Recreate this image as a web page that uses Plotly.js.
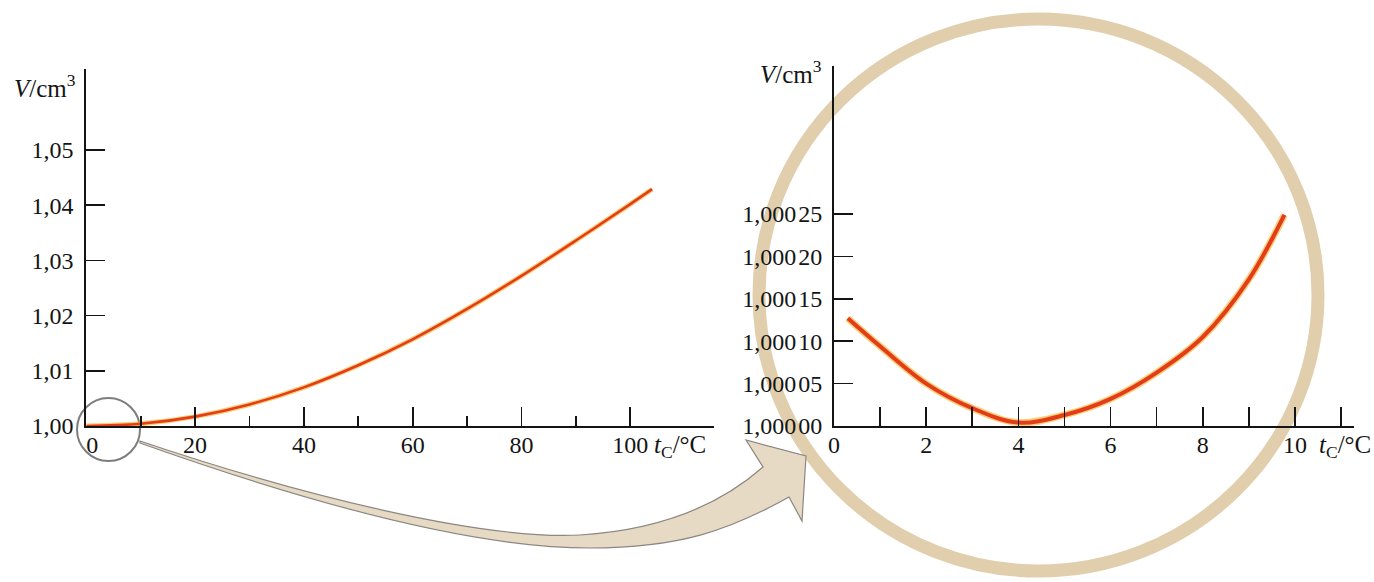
<!DOCTYPE html>
<html>
<head>
<meta charset="utf-8">
<script src="https://cdn.plot.ly/plotly-3.0.1.min.js"></script>
<style>html,body{margin:0;padding:0;background:#fff;}#chart{width:1374px;height:582px;}</style>
</head>
<body>
<div id="chart"></div>
<script>
// ---- data ----
const fullTemps = [0, 10, 20, 30, 40, 50, 60, 70, 80, 90, 100, 104];
const fullVolumes = [1.0000, 1.0004, 1.0017, 1.0039, 1.0070, 1.0110, 1.0157, 1.0212, 1.0272, 1.0336, 1.0402, 1.0429];

const zoomTemps = [0.3, 1, 2, 3, 4, 5, 6, 7, 8, 9, 9.77];
const zoomVolumes = [1.000127, 1.000094, 1.000050, 1.000021, 1.000004, 1.000013, 1.000032, 1.000063, 1.000105, 1.000173, 1.000249];

const leftYTicks = [1.00, 1.01, 1.02, 1.03, 1.04, 1.05];
const leftYLabels = ['1,00', '1,01', '1,02', '1,03', '1,04', '1,05'];
const leftXTicks = [0, 20, 40, 60, 80, 100];
const leftXLabels = ['\u20020', '20', '40', '60', '80', '100'];
const leftXMinor = [10, 30, 50, 70, 90];

const rightYTicks = [1.00000, 1.00005, 1.00010, 1.00015, 1.00020, 1.00025];
const rightYLabels = ['1,000\u200a00', '1,000\u200a05', '1,000\u200a10', '1,000\u200a15', '1,000\u200a20', '1,000\u200a25'];
const rightXTicks = [0, 1, 2, 3, 4, 5, 6, 7, 8, 9, 10, 11];
const rightXLabels = ['0', '', '2', '', '4', '', '6', '', '8', '', '10', ''];

// ---- geometry helpers (pixel -> paper) ----
const W = 1374, H = 582;
const px = x => x / W;
const py = y => 1 - y / H;
function pathFrom(cmds) {
  return cmds.map(c => c[0] + ' ' + c.slice(1).reduce((a, v, i) => {
    if (i % 2 === 0) a.push(px(v).toFixed(5)); else a.push(py(v).toFixed(5));
    return a;
  }, []).join(' ')).join(' ') + ' Z';
}

const red = '#e33c1b';
const glow = '#f6b93a';
const serif = 'Liberation Serif, Times New Roman, serif';
const ink = '#141414';

const traces = [
  {x: fullTemps, y: fullVolumes, xaxis: 'x', yaxis: 'y', mode: 'lines', line: {color: glow, width: 5, shape: 'spline'}, opacity: 0.7, hoverinfo: 'skip'},
  {x: fullTemps, y: fullVolumes, xaxis: 'x', yaxis: 'y', mode: 'lines', line: {color: red, width: 2.6, shape: 'spline'}},
  {x: zoomTemps, y: zoomVolumes, xaxis: 'x2', yaxis: 'y2', mode: 'lines', line: {color: glow, width: 7, shape: 'spline'}, opacity: 0.7, hoverinfo: 'skip'},
  {x: zoomTemps, y: zoomVolumes, xaxis: 'x2', yaxis: 'y2', mode: 'lines', line: {color: red, width: 4, shape: 'spline'}}
];

const axisCommon = {
  showline: true, linecolor: ink, linewidth: 2,
  ticks: 'inside', ticklen: 19, tickwidth: 1.6, tickcolor: ink,
  showgrid: false, zeroline: false, fixedrange: true,
  tickfont: {family: serif, size: 24, color: ink},
  tickmode: 'array'
};

const leftXStart = 86.3, leftXEnd = 714, leftPxPerUnit = 5.44;
const rightXStart = 834, rightXEnd = 1354, rightPxPerUnit = 46.1;
const baseY = 426;
const leftTop = 69, leftPxPer = 5520;         // px per 1.0 of V
const rightTop = 66, rightPxPer = 42.4 / 0.00005;

const layout = {
  width: W, height: H,
  margin: {l: 0, r: 0, t: 0, b: 0, pad: 0},
  paper_bgcolor: '#ffffff', plot_bgcolor: 'rgba(0,0,0,0)',
  showlegend: false,
  xaxis: Object.assign({}, axisCommon, {
    domain: [px(leftXStart), px(leftXEnd)], anchor: 'y',
    range: [0, (leftXEnd - leftXStart) / leftPxPerUnit],
    tickvals: leftXTicks, ticktext: leftXLabels, ticklabelstandoff: -4,
    minor: {tickmode: 'array', tickvals: leftXMinor, ticks: 'inside', ticklen: 10, tickwidth: 1.6, tickcolor: ink}
  }),
  yaxis: Object.assign({}, axisCommon, {
    domain: [py(baseY), py(leftTop)], anchor: 'x',
    range: [1.0, 1.0 + (baseY - leftTop) / leftPxPer],
    tickvals: leftYTicks, ticktext: leftYLabels, ticklabelstandoff: 6
  }),
  xaxis2: Object.assign({}, axisCommon, {
    domain: [px(rightXStart), px(rightXEnd)], anchor: 'y2',
    range: [0, (rightXEnd - rightXStart) / rightPxPerUnit],
    tickvals: rightXTicks, ticktext: rightXLabels, ticklabelstandoff: -4
  }),
  yaxis2: Object.assign({}, axisCommon, {
    domain: [py(baseY), py(rightTop)], anchor: 'x2',
    range: [1.0, 1.0 + (baseY - rightTop) / rightPxPer],
    tickvals: rightYTicks, ticktext: rightYLabels, ticklabelstandoff: 5
  }),
  annotations: [
    {xref: 'paper', yref: 'paper', x: px(78), y: py(86), xanchor: 'right', yanchor: 'middle', showarrow: false,
     text: '<i>V</i>/cm<sup>3</sup>', font: {family: serif, size: 25, color: ink}},
    {xref: 'paper', yref: 'paper', x: px(824), y: py(72), xanchor: 'right', yanchor: 'middle', showarrow: false,
     text: '<i>V</i>/cm<sup>3</sup>', font: {family: serif, size: 25, color: ink}},
    {xref: 'paper', yref: 'paper', x: px(652), y: py(446), xanchor: 'left', yanchor: 'middle', showarrow: false,
     text: '<i>t</i><sub>C</sub>/°C', font: {family: serif, size: 25, color: ink}},
    {xref: 'paper', yref: 'paper', x: px(1317), y: py(446), xanchor: 'left', yanchor: 'middle', showarrow: false,
     text: '<i>t</i><sub>C</sub>/°C', font: {family: serif, size: 25, color: ink}}
  ],
  shapes: [
    // big magnifier ring
    {type: 'circle', xref: 'paper', yref: 'paper', layer: 'below',
     x0: px(759), x1: px(1318), y0: py(571), y1: py(19),
     line: {color: '#e1ceac', width: 13}},
    // small ring around origin
    {type: 'circle', xref: 'paper', yref: 'paper', layer: 'below',
     x0: px(77), x1: px(140), y0: py(461), y1: py(398),
     line: {color: '#7d7d7d', width: 2}},
    // curved arrow
    {type: 'path', xref: 'paper', yref: 'paper', layer: 'below',
     path: pathFrom([
       ['M', 140, 441],
       ['C', 300, 495, 480, 540, 580, 535],
       ['C', 660, 530, 720, 505, 763, 467],
       ['L', 746, 440],
       ['L', 806, 456],
       ['L', 802, 521],
       ['L', 789, 497],
       ['C', 730, 530, 680, 548, 590, 548],
       ['C', 470, 548, 300, 500, 140, 443]
     ]),
     fillcolor: '#e6dac5', line: {color: '#8c8680', width: 1.2}}
  ]
};

Plotly.newPlot('chart', traces, layout, {staticPlot: true, displayModeBar: false});
</script>
</body>
</html>
